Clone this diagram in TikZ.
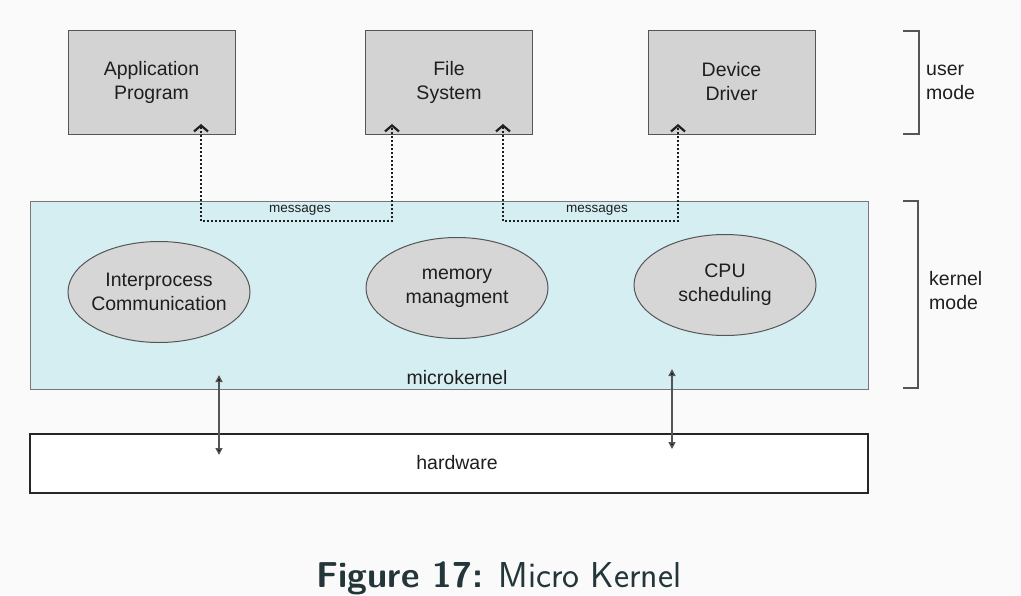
\documentclass[tikz,border=0pt]{standalone}
\usepackage{fontspec}
\setmainfont{Liberation Sans}
\usetikzlibrary{shapes.geometric,arrows.meta}
\definecolor{bgc}{HTML}{FAFAFA}
\definecolor{boxgray}{HTML}{D3D3D3}
\definecolor{ellgray}{HTML}{D6D6D6}
\definecolor{mkcyan}{HTML}{D5EEF2}
\definecolor{edgegray}{HTML}{555555}
\definecolor{txt}{HTML}{1E1E1E}
\definecolor{captc}{HTML}{23373B}
\tikzset{
  ubox/.style={rectangle,draw=edgegray,line width=1pt,fill=boxgray,minimum width=167pt,minimum height=104pt,inner sep=0pt,align=center,font=\fontsize{19.5}{24}\selectfont,text=txt},
  ell/.style={ellipse,draw=edgegray,line width=1pt,fill=ellgray,minimum width=182pt,minimum height=101pt,inner sep=0pt},
  lbl/.style={font=\fontsize{19.5}{24}\selectfont,text=txt,align=left,inner sep=0pt},
  ctext/.style={font=\fontsize{19.5}{24}\selectfont,text=txt,align=center,inner sep=0pt},
  msgl/.style={font=\fontsize{13.5}{16}\selectfont,text=txt,inner sep=0pt},
  msg/.style={dotted,line width=2pt,txt,{Straight Barb[length=6pt,width=14pt,line width=2.2pt]}-{Straight Barb[length=6pt,width=14pt,line width=2.2pt]}},
  dbl/.style={draw=edgegray,line width=1.5pt,{Triangle[length=7pt,width=7pt,fill=black]}-{Triangle[length=7pt,width=7pt,fill=black]}},
  brk/.style={draw=edgegray,line width=2pt},
}
\begin{document}
\begin{tikzpicture}[x=1pt,y=-1pt]
\fill[bgc] (0,0) rectangle (1021,595);
\useasboundingbox (0,0) rectangle (1021,595);

% kernel and hardware layers
\node[rectangle,draw=edgegray!80,line width=1pt,fill=mkcyan,minimum width=838pt,minimum height=188pt,inner sep=0pt] (mk) at (449,295) {};
\node[rectangle,draw=black!85,line width=1.3pt,fill=white,minimum width=838pt,minimum height=59pt,inner sep=0pt] (hw) at (449,463.5) {};
\node[lbl] (mklbl) at (457,378) {microkernel};
\node[lbl] (hwlbl) at (457,463) {hardware};

% user-mode boxes
\node[ubox] (app) at (151.5,82) {Application\\Program};
\node[ubox] (fs) at (449,82) {File\\System};
\node[ubox] (dd) at (731.5,82) {Device\\Driver};

% kernel services
\node[ell] (ipc) at (159,292) {};
\node[ell] (mem) at (457,288) {};
\node[ell] (cpu) at (725,285) {};
\node[ctext] (ipct) at (ipc.center) {Interprocess\\Communication};
\node[ctext] (memt) at (mem.center) {memory\\managment};
\node[ctext] (cput) at (cpu.center) {CPU\\scheduling};

% message paths
\coordinate (a1) at (201,124);
\coordinate (f1) at (392,124);
\coordinate (f2) at (503,124);
\coordinate (d1) at (678,124);
\draw[msg] (a1) -- ++(0,97) -| (f1);
\draw[msg] (f2) -- ++(0,97) -| (d1);
\node[msgl] (m1) at (300,210) {messages};
\node[msgl] (m2) at (597,210) {messages};

% kernel <-> hardware
\coordinate (k1) at (219,375);
\coordinate (h1) at (219,455);
\coordinate (k2) at (672,369);
\coordinate (h2) at (672,449);
\draw[dbl] (k1) -- (h1);
\draw[dbl] (k2) -- (h2);

% mode brackets
\draw[brk] (903,31) -- (919,31) -- (919,134) -- (903,134);
\draw[brk] (903,201) -- (918,201) -- (918,388) -- (903,388);
\node[lbl,anchor=west] (um) at (926,82) {user\\mode};
\node[lbl,anchor=west] (km) at (929,291) {kernel\\mode};

% caption
\node[font=\sffamily\fontsize{36}{43}\selectfont,text=captc,inner sep=0pt,anchor=base] (cap) at (499,587) {\textbf{Figure 17:} Micro Kernel};
\end{tikzpicture}
\end{document}
